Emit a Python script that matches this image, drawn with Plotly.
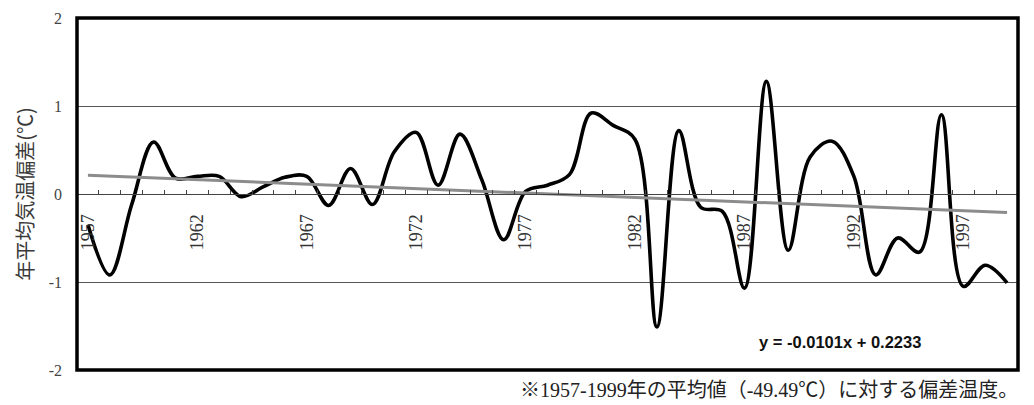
import plotly.graph_objects as go

years = list(range(1957, 2000))
anomaly = [-0.35, -0.92, -0.12, 0.59, 0.18, 0.20, 0.20, -0.03, 0.08, 0.19,
           0.20, -0.13, 0.29, -0.12, 0.48, 0.70, 0.10, 0.68, 0.16, -0.52,
           0.03, 0.10, 0.22, 0.92, 0.78, 0.62, -1.51, 0.72, -0.15, -0.20,
           -1.07, 1.28, -0.64, 0.42, 0.60, 0.20, -0.92, -0.50, -0.66, 0.90,
           -1.05, -0.81, -1.01]
trend_slope = -0.0101
trend_intercept = 0.2233
x_label_years = [1957, 1962, 1967, 1972, 1977, 1982, 1987, 1992, 1997]
y_tick_vals = [2, 1, 0, -1, -2]
y_tick_text = ["2", "1", "0", "-1", "-2"]
y_title = "年平均気温偏差(℃)"
equation_text = "y = -0.0101x + 0.2233"
footnote_text = "※1957-1999年の平均値（-49.49℃）に対する偏差温度。"

trend = [trend_slope * (i + 1) + trend_intercept for i in range(len(years))]

serif = "Liberation Serif, Noto Sans CJK JP, serif"

fig = go.Figure()
fig.add_trace(go.Scatter(
    x=years, y=anomaly, mode="lines",
    line=dict(color="#000000", width=3.6, shape="spline", smoothing=1.0),
    showlegend=False, hoverinfo="skip"))
fig.add_trace(go.Scatter(
    x=years, y=trend, mode="lines",
    line=dict(color="#8c8c8c", width=3),
    showlegend=False, hoverinfo="skip"))

# page body has an 8px margin, so the figure is sized to fit 1034x405 from (8, 8)
fig.update_layout(
    width=1026, height=397,
    margin=dict(l=69, r=16, t=10, b=35, autoexpand=False),
    paper_bgcolor="white", plot_bgcolor="white",
    xaxis=dict(
        range=[years[0] - 0.5, years[-1] + 0.5],
        anchor="free", position=0.5, automargin=False,
        showline=True, linecolor="#444444", linewidth=1,
        showgrid=False, zeroline=False,
        tickmode="array", tickvals=x_label_years,
        ticktext=[str(y) for y in x_label_years],
        ticks="", tickangle=-90, ticklabelstandoff=12,
        tickfont=dict(family=serif, size=18, color="#333333"),
        minor=dict(ticks="inside", ticklen=4, tickwidth=1, tickcolor="#444444",
                   tick0=years[0] - 0.5, dtick=1, showgrid=False),
    ),
    yaxis=dict(
        range=[-2, 2], tickmode="array", tickvals=y_tick_vals, ticktext=y_tick_text,
        showgrid=True, gridcolor="#555555", gridwidth=1, automargin=False,
        zeroline=False, showline=False, ticks="",
        ticklabelstandoff=14,
        tickfont=dict(family=serif, size=16, color="#444444"),
        title=dict(text=y_title, standoff=9,
                   font=dict(family="Noto Sans CJK JP", size=20, color="#3a3a3a")),
    ),
    shapes=[dict(type="rect", xref="paper", yref="paper", x0=0, x1=1, y0=0, y1=1,
                 line=dict(color="#000000", width=3.5))],
    annotations=[
        dict(text="<b>" + equation_text + "</b>", x=1991.37, y=-1.68, xref="x", yref="y",
             showarrow=False, xanchor="center", yanchor="middle",
             font=dict(family="Liberation Sans, Arial", size=16.5, color="#111111")),
        dict(text=footnote_text, x=1.002, y=-0.02, xref="paper", yref="paper",
             showarrow=False, xanchor="right", yanchor="top",
             font=dict(family=serif, size=20, color="#222222")),
    ],
)

fig.write_html("out.html")
